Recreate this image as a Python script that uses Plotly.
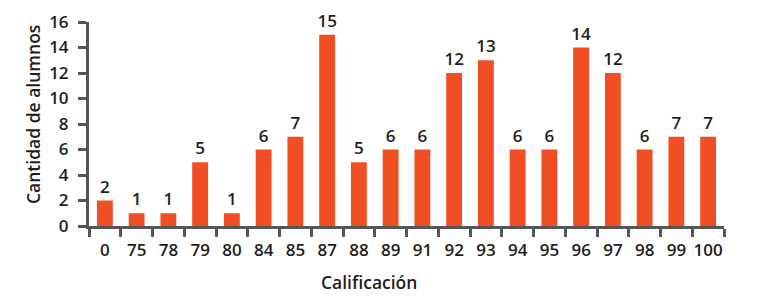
import plotly.graph_objects as go

categorias = ["0", "75", "78", "79", "80", "84", "85", "87", "88", "89",
              "91", "92", "93", "94", "95", "96", "97", "98", "99", "100"]
alumnos = [2, 1, 1, 5, 1, 6, 7, 15, 5, 6, 6, 12, 13, 6, 6, 14, 12, 6, 7, 7]
y_ticks = [0, 2, 4, 6, 8, 10, 12, 14, 16]

FONT = "Open Sans"
W = 600
TXT = "#1f1d1e"
AX = "#555555"

# the page body has an 8px margin, so the figure is sized to fit the window
fig = go.Figure(go.Bar(
    x=categorias, y=alumnos, width=0.5,
    marker=dict(color="#F04E23", line=dict(width=0)),
    text=[str(v) for v in alumnos], textposition="outside",
    textfont=dict(family=FONT, size=17, color=TXT, weight=W),
    constraintext="none",
    cliponaxis=False,
))

fig.update_layout(
    width=763, height=289,
    margin=dict(l=81, r=47, t=14, b=71, autoexpand=False),
    plot_bgcolor="white", paper_bgcolor="white",
    showlegend=False,
    font=dict(family=FONT, size=17, color=TXT, weight=W),
    xaxis=dict(
        type="category", range=[-0.5, 19.5], automargin=False,
        showline=True, linewidth=3, linecolor=AX,
        ticks="outside", tickson="boundaries", ticklen=8, tickwidth=3, tickcolor=AX,
        tickangle=0, ticklabelstandoff=7,
        showgrid=False, zeroline=False,
        tickfont=dict(family=FONT, size=17, color=TXT, weight=W),
    ),
    yaxis=dict(
        range=[0, 16], tickvals=y_ticks, automargin=False,
        showline=True, linewidth=3, linecolor=AX,
        ticks="outside", ticklen=8, tickwidth=3, tickcolor=AX,
        ticklabelstandoff=6,
        showgrid=False, zeroline=False,
        tickfont=dict(family=FONT, size=17, color=TXT, weight=W),
    ),
    annotations=[
        dict(text="Calificación", xref="paper", yref="paper",
             x=(369 - 89) / 635, y=-56 / 204, xanchor="center", yanchor="middle",
             showarrow=False, font=dict(family=FONT, size=17.5, color=TXT, weight=W)),
        dict(text="Cantidad de alumnos", xref="paper", yref="paper",
             x=-56 / 635, y=(226 - 115) / 204, xanchor="center", yanchor="middle",
             textangle=-90, showarrow=False, font=dict(family=FONT, size=17.5, color=TXT, weight=W)),
    ],
)

fig.write_html("out.html")
